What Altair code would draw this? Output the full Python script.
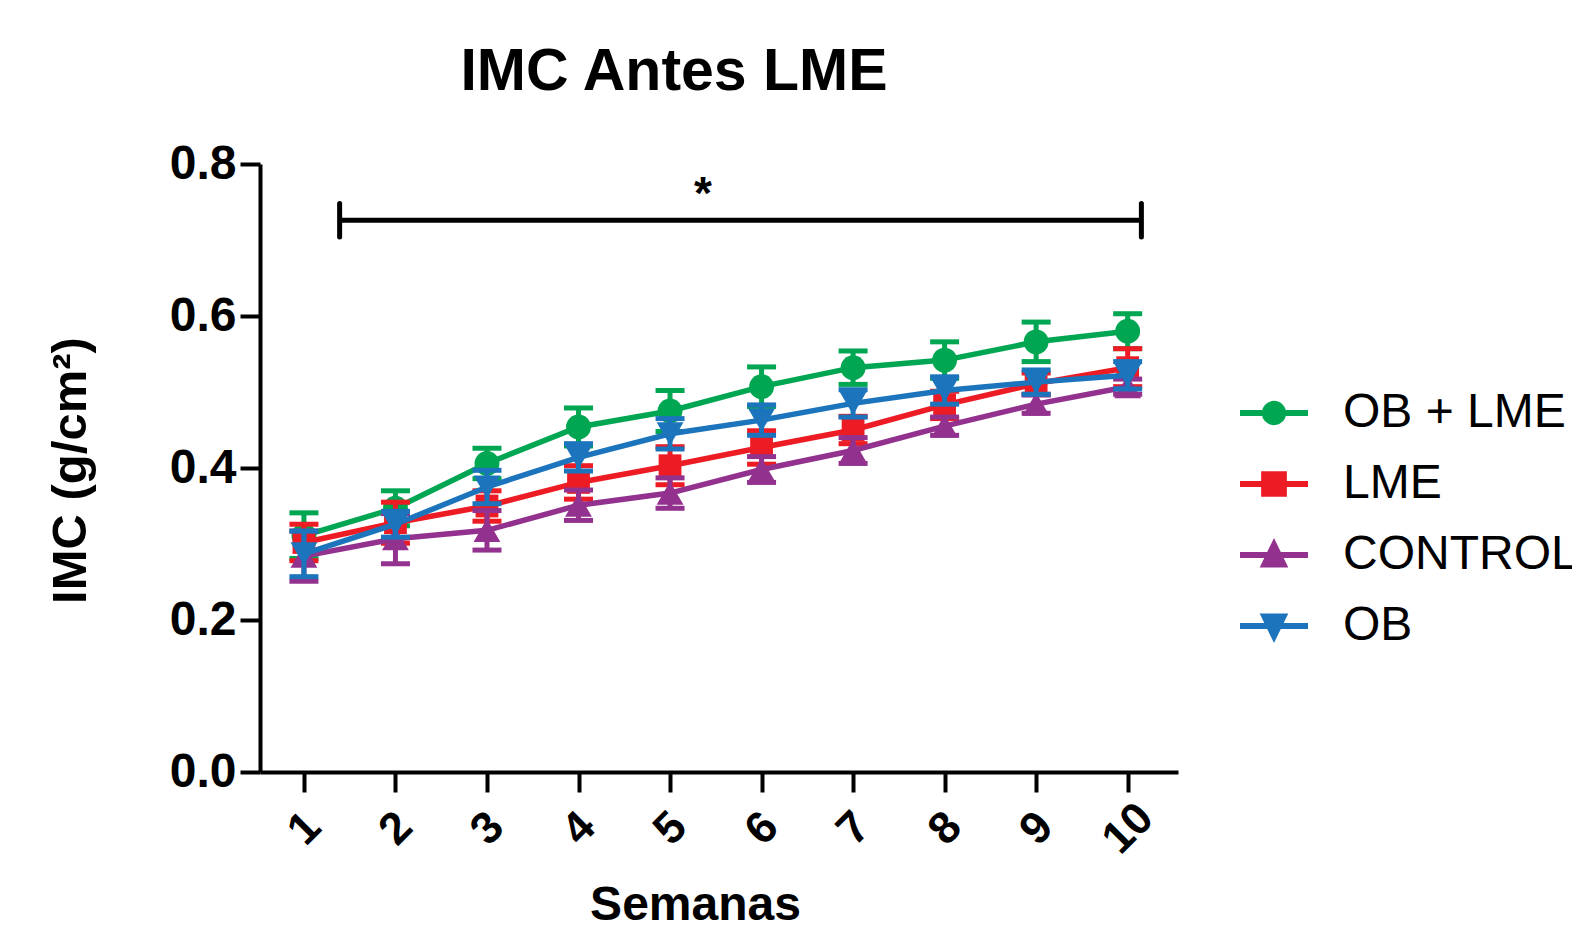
import altair as alt
import pandas as pd

# ---------------- data ----------------
weeks = list(range(1, 11))
groups = ["OB + LME", "LME", "CONTROL", "OB"]
colors = ["#00A651", "#ED1C24", "#93328E", "#1C75BC"]
shapes = ["circle", "square", "triangle-up", "triangle-down"]

ob_lme = [0.311, 0.347, 0.406, 0.454, 0.475, 0.507, 0.532, 0.542, 0.566, 0.580]
ob_lme_sem = [0.030, 0.023, 0.020, 0.025, 0.027, 0.026, 0.022, 0.024, 0.026, 0.023]
lme = [0.302, 0.328, 0.350, 0.381, 0.403, 0.427, 0.450, 0.483, 0.511, 0.532]
lme_sem = [0.024, 0.027, 0.020, 0.022, 0.025, 0.022, 0.018, 0.018, 0.014, 0.025]
control = [0.284, 0.307, 0.318, 0.351, 0.367, 0.398, 0.423, 0.455, 0.484, 0.507]
control_sem = [0.033, 0.033, 0.026, 0.020, 0.020, 0.017, 0.017, 0.012, 0.012, 0.010]
ob = [0.287, 0.326, 0.375, 0.414, 0.445, 0.463, 0.485, 0.502, 0.513, 0.522]
ob_sem = [0.030, 0.017, 0.022, 0.018, 0.020, 0.020, 0.018, 0.018, 0.016, 0.018]

y_ticks = [0.0, 0.2, 0.4, 0.6, 0.8]

# significance annotation (data units)
sig_start = 1.39
sig_end = 10.15
sig_level = 0.726
sig_cap = 0.022
star_x = 5.36
star_y = 0.741

# legend symbols: line segment + marker (custom SVG paths in [-1, 1])
legend_paths = [
    "M-1,0L1,0M0.27,0A0.27,0.27 0 1,1 -0.27,0A0.27,0.27 0 1,1 0.27,0Z",
    "M-1,0L1,0M-0.29,-0.29L0.29,-0.29L0.29,0.29L-0.29,0.29Z",
    "M-1,0L1,0M0,-0.3L0.28,0.28L-0.28,0.28Z",
    "M-1,0L1,0M-0.28,-0.28L0.28,-0.28L0,0.3Z",
]

rows = []
for g, vals, sems in zip(groups, [ob_lme, lme, control, ob],
                         [ob_lme_sem, lme_sem, control_sem, ob_sem]):
    for w, v, s in zip(weeks, vals, sems):
        rows.append({"semana": w, "imc": v, "lo": v - s, "hi": v + s, "grupo": g})
df = pd.DataFrame(rows)

sig_df = pd.DataFrame({"x": [sig_start], "x2": [sig_end], "y": [sig_level]})
sig_caps = pd.DataFrame({"x": [sig_start, sig_end],
                         "ylo": [sig_level - sig_cap] * 2,
                         "yhi": [sig_level + sig_cap] * 2})
star_df = pd.DataFrame({"x": [star_x], "y": [star_y], "t": ["*"]})

FONT = "Liberation Sans"

xscale = alt.Scale(domain=[0.52, 10.55], nice=False, zero=False)
yscale = alt.Scale(domain=[0, 0.8], nice=False, zero=True)
cscale = alt.Scale(domain=groups, range=colors)
sscale = alt.Scale(domain=groups, range=shapes)

xaxis = alt.Axis(values=weeks, format="d", title="Semanas", grid=False,
                 tickSize=20, tickWidth=4, tickColor="black",
                 domainWidth=4, domainColor="black",
                 labelFont=FONT, labelFontSize=45, labelFontWeight="bold",
                 labelColor="black", labelAngle=315, labelAlign="center",
                 labelBaseline="middle", labelPadding=36,
                 titleFont=FONT, titleFontSize=48, titleFontWeight="bold",
                 titleColor="black", titleBaseline="alphabetic",
                 titleX=435, titleY=147)
yaxis = alt.Axis(values=y_ticks, format=".1f", title="IMC (g/cm²)", grid=False,
                 tickSize=20, tickWidth=4, tickColor="black",
                 domainWidth=4, domainColor="black",
                 labelFont=FONT, labelFontSize=48, labelFontWeight="bold",
                 labelColor="black", labelPadding=4,
                 titleFont=FONT, titleFontSize=49, titleFontWeight="bold",
                 titleColor="black", titleBaseline="alphabetic",
                 titleX=-175, titleY=306)

X = alt.X("semana:Q", scale=xscale, axis=xaxis)
Y = alt.Y("imc:Q", scale=yscale, axis=yaxis)
C = alt.Color("grupo:N", scale=cscale, legend=None)

base = alt.Chart(df)
layers = []
sizes = {"circle": 620, "square": 520, "triangle-up": 720, "triangle-down": 720}
for g, shp in zip(groups, shapes):
    sub = base.transform_filter(alt.datum.grupo == g)
    layers.append(sub.mark_rule(strokeWidth=5, opacity=1).encode(
        x=X, y=alt.Y("lo:Q", scale=yscale, axis=yaxis), y2="hi:Q", color=C))
    layers.append(sub.mark_tick(orient="horizontal", size=29, thickness=5,
                                opacity=1).encode(
        x=X, y=alt.Y("lo:Q", scale=yscale, axis=yaxis), color=C))
    layers.append(sub.mark_tick(orient="horizontal", size=29, thickness=5,
                                opacity=1).encode(
        x=X, y=alt.Y("hi:Q", scale=yscale, axis=yaxis), color=C))
    layers.append(sub.mark_line(strokeWidth=5.5, opacity=1).encode(x=X, y=Y, color=C))
    layers.append(sub.mark_point(filled=True, opacity=1, size=sizes[shp]).encode(
        x=X, y=Y, color=C,
        shape=alt.Shape("grupo:N", scale=sscale, legend=None)))

sig_line = alt.Chart(sig_df).mark_rule(strokeWidth=5, color="black").encode(
    x=alt.X("x:Q", scale=xscale, axis=xaxis), x2="x2:Q",
    y=alt.Y("y:Q", scale=yscale, axis=yaxis))
sig_cap_rules = alt.Chart(sig_caps).mark_rule(strokeWidth=5, color="black",
                                             strokeCap="round").encode(
    x=alt.X("x:Q", scale=xscale, axis=xaxis),
    y=alt.Y("ylo:Q", scale=yscale, axis=yaxis), y2="yhi:Q")
star = alt.Chart(star_df).mark_text(font=FONT, fontSize=46, fontWeight="bold",
                                    color="black", baseline="alphabetic",
                                    align="center").encode(
    x=alt.X("x:Q", scale=xscale, axis=xaxis),
    y=alt.Y("y:Q", scale=yscale, axis=yaxis), text="t:N")

leg = alt.Legend(title=None, orient="none", legendX=977, legendY=212,
                 padding=0, symbolSize=4624, symbolStrokeWidth=6,
                 labelFont=FONT, labelFontSize=48, labelColor="black",
                 labelBaseline="middle", labelOffset=32, rowPadding=10,
                 labelLimit=400)
legend_layer = alt.Chart(df).transform_filter("false").mark_point(
    filled=True, opacity=1).encode(
    x=X, y=Y,
    fill=alt.Fill("grupo:N", scale=alt.Scale(domain=groups, range=colors), legend=leg),
    stroke=alt.Stroke("grupo:N", scale=alt.Scale(domain=groups, range=colors), legend=leg),
    shape=alt.Shape("grupo:N", scale=alt.Scale(domain=groups, range=legend_paths), legend=leg),
)

chart = alt.layer(*layers, sig_line, sig_cap_rules, star, legend_layer).resolve_scale(
    shape="independent", fill="independent", stroke="independent"
).properties(
    width=918, height=608,
    autosize=alt.AutoSizeParams(type="none"),
    padding={"left": 260, "top": 164, "right": 394, "bottom": 156},
    title=alt.TitleParams("IMC Antes LME", font=FONT, fontSize=59, fontWeight="bold",
                          color="black", anchor="middle", frame="group",
                          baseline="alphabetic", offset=0, dy=9, dx=-45),
).configure_view(strokeWidth=0)

chart.save("out.html", embed_options={"renderer": "svg", "actions": False})
